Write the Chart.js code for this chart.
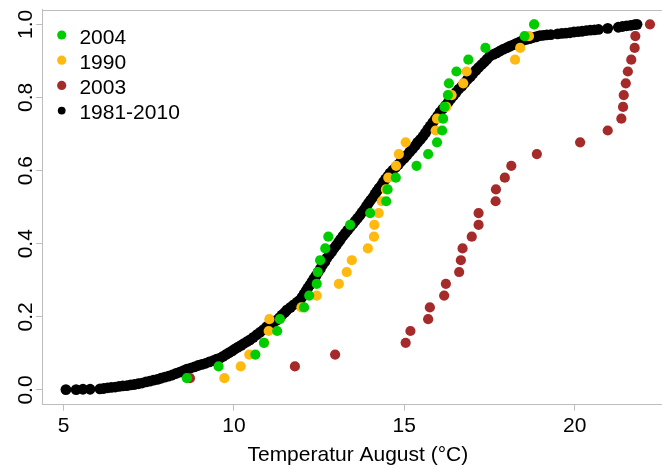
<!DOCTYPE html>
<html><head><meta charset="utf-8">
<script src="https://cdn.jsdelivr.net/npm/chart.js@4/dist/chart.umd.min.js"></script>
<style>
html,body{margin:0;padding:0;overflow:hidden;background:#fff;width:662px;height:469px;}
#wrap{position:absolute;left:0;top:0;width:680px;height:469px;}
</style></head><body>
<div id="wrap"><canvas id="c" width="680" height="469"></canvas></div>
<script>
// ---- data ----
const seriesNames = ['2004', '1990', '2003', '1981-2010'];
const seriesColors = ['#00CD00', '#FFB90F', '#A52A2A', '#000000'];
const xTicks = [5, 10, 15, 20];
const yTicks = [0, 0.2, 0.4, 0.6, 0.8, 1.0];
const yTickLabels = ['0.0', '0.2', '0.4', '0.6', '0.8', '1.0'];
const xTitle = 'Temperatur August (°C)';

// daily August temperatures (sorted) of single years
const temp2004 = [8.62, 9.55, 10.63, 10.88, 11.27, 11.35, 12.06, 12.21, 12.43, 12.46, 12.53, 12.68, 12.77, 13.41, 14.00, 14.47, 14.51, 14.75, 15.36, 15.70, 15.96, 16.11, 16.14, 16.18, 16.28, 16.31, 16.53, 16.88, 17.38, 18.53, 18.81];
const temp1990 = [9.72, 10.20, 10.45, 10.89, 11.02, 11.04, 11.98, 12.43, 13.08, 13.31, 13.46, 13.93, 14.11, 14.12, 14.25, 14.34, 14.46, 14.53, 14.76, 14.84, 15.04, 15.92, 15.96, 16.23, 16.39, 16.73, 16.83, 18.25, 18.40, 18.66, 18.81];
const temp2003 = [8.71, 11.79, 12.97, 15.04, 15.18, 15.70, 15.75, 16.17, 16.22, 16.61, 16.66, 16.71, 16.98, 17.18, 17.18, 17.68, 17.69, 17.95, 18.14, 18.89, 20.16, 20.97, 21.37, 21.42, 21.44, 21.50, 21.56, 21.66, 21.76, 21.78, 22.21];

// 1981-2010 reference distribution
const climTemp = [
5.07,5.37,5.57,5.78,
6.07,6.18,6.29,6.40,6.52,6.63,6.74,6.86,6.97,7.08,7.19,7.30,7.42,7.53,7.64,7.75,7.86,7.97,8.08,8.19,8.30,8.41,8.52,8.62,
8.73,8.84,8.95,9.06,9.17,9.28,9.39,9.49,9.59,
9.68,9.77,9.86,9.95,10.03,
10.12,10.21,10.29,10.38,10.47,
10.57,10.67,10.77,
10.87,10.96,11.06,
11.16,11.26,
11.34,11.41,11.49,11.56,
11.66,11.75,11.85,11.94,
12.00,12.06,12.12,12.17,12.23,
12.29,12.35,12.41,12.47,
12.54,12.60,12.67,12.73,
12.80,12.87,12.93,13.00,13.07,13.13,13.20,
13.27,13.34,13.41,13.49,13.56,13.63,13.70,
13.76,13.83,13.89,13.95,14.01,14.08,14.14,14.20,
14.26,14.33,14.39,14.45,14.52,14.58,
14.66,14.75,14.83,14.91,15.00,15.08,
15.16,15.24,15.32,15.39,15.47,15.55,
15.62,15.69,15.76,15.84,15.91,15.98,16.05,
16.13,16.21,16.29,16.36,16.44,16.52,
16.60,16.69,16.77,16.85,16.94,17.02,
17.10,17.18,17.27,17.35,17.43,17.51,
17.61,17.71,17.81,17.91,18.01,
18.10,18.20,18.29,18.39,18.48,
18.58,18.68,18.78,18.88,18.98,
19.08,19.18,19.30,19.50,19.62,19.74,19.86,19.98,20.10,20.22,20.34,20.46,20.58,20.70,20.97,21.28,21.40,21.52,21.64,21.76,21.83];
const climProb = [
0.001,0.001,0.002,0.002,
0.003,0.004,0.006,0.007,0.008,0.010,0.011,0.012,0.014,0.015,0.017,0.019,0.022,0.024,0.027,0.029,0.032,0.035,0.038,0.041,0.045,0.049,0.053,0.057,
0.060,0.063,0.067,0.070,0.073,0.077,0.080,0.084,0.087,
0.092,0.097,0.102,0.107,0.112,
0.117,0.122,0.127,0.132,0.137,
0.144,0.151,0.158,
0.165,0.173,0.180,
0.185,0.191,
0.198,0.205,0.212,0.219,
0.226,0.233,0.240,0.246,
0.254,0.263,0.271,0.279,0.287,
0.296,0.305,0.313,0.322,
0.332,0.342,0.351,0.361,
0.370,0.378,0.387,0.395,0.404,0.412,0.421,
0.429,0.437,0.445,0.454,0.462,0.470,0.478,
0.486,0.494,0.503,0.511,0.519,0.527,0.536,0.544,
0.552,0.560,0.569,0.577,0.585,0.593,
0.601,0.609,0.617,0.626,0.634,0.642,
0.651,0.659,0.668,0.677,0.685,0.694,
0.703,0.713,0.722,0.732,0.741,0.750,0.760,
0.769,0.778,0.787,0.796,0.805,0.814,
0.823,0.831,0.840,0.849,0.857,0.866,
0.874,0.882,0.890,0.897,0.905,0.913,
0.918,0.922,0.927,0.932,0.936,
0.940,0.944,0.948,0.952,0.956,
0.959,0.961,0.964,0.966,0.969,
0.970,0.971,0.972,0.974,0.975,0.976,0.977,0.979,0.980,0.981,0.983,0.984,0.985,0.986,0.989,0.992,0.994,0.996,0.997,0.999,1.000];

// ---- build ----
const FONT = "'Liberation Sans', Arial, Helvetica, sans-serif";
const FS = 21;
const AXIS = '#bdbdbd';

function ecdf(arr) {
  const s = arr.slice().sort((a, b) => a - b);
  return s.map((v, i) => ({x: v, y: (i + 1) / s.length}));
}
const climPts = [];
for (let i = 0; i < Math.min(climTemp.length, climProb.length); i++) climPts.push({x: climTemp[i], y: climProb[i]});

const datasets = [
  {label: seriesNames[0], data: ecdf(temp2004), backgroundColor: seriesColors[0], pointRadius: 5.1},
  {label: seriesNames[1], data: ecdf(temp1990), backgroundColor: seriesColors[1], pointRadius: 5.1},
  {label: seriesNames[2], data: ecdf(temp2003), backgroundColor: seriesColors[2], pointRadius: 5.1},
  {label: seriesNames[3], data: climPts, backgroundColor: seriesColors[3], pointRadius: 5.4}
].map(d => Object.assign(d, {borderWidth: 0, pointHoverRadius: d.pointRadius, pointHitRadius: 0}));

const decor = {
  id: 'decor',
  afterDraw(chart) {
    const {ctx, chartArea: a, scales} = chart;
    ctx.save();
    ctx.strokeStyle = AXIS; ctx.lineWidth = 1;
    ctx.beginPath();
    ctx.moveTo(a.left, Math.round(a.top) + 0.5); ctx.lineTo(a.right, Math.round(a.top) + 0.5);
    ctx.stroke();
    ctx.fillStyle = '#000';
    ctx.font = FS + 'px ' + FONT;
    yTicks.forEach((v, i) => {
      const py = scales.y.getPixelForValue(v);
      ctx.save();
      ctx.translate(32, py);
      ctx.rotate(-Math.PI / 2);
      ctx.textAlign = 'center'; ctx.textBaseline = 'alphabetic';
      ctx.fillText(yTickLabels[i], 0, 0);
      ctx.restore();
    });
    // legend
    const rows = [43.5, 68.7, 93.9, 119.1];
    const rad = [4.6, 4.6, 4.6, 3.9];
    seriesNames.forEach((n, i) => {
      ctx.fillStyle = seriesColors[i];
      ctx.beginPath(); ctx.arc(61.7, rows[i] - 8.5, rad[i], 0, Math.PI * 2); ctx.fill();
      ctx.fillStyle = '#000';
      ctx.textAlign = 'left'; ctx.textBaseline = 'alphabetic';
      ctx.fillText(n, 79.4, rows[i]);
    });
    ctx.restore();
  }
};

new Chart(document.getElementById('c'), {
  type: 'scatter',
  data: {datasets},
  options: {
    responsive: false, devicePixelRatio: 1, animation: false, events: [],
    layout: {padding: {top: 9.7, right: 6.5, left: 0, bottom: 0}},
    plugins: {legend: {display: false}, tooltip: {enabled: false}},
    scales: {
      x: {
        type: 'linear', min: 4.374, max: 22.90,
        afterBuildTicks: s => { s.ticks = xTicks.map(v => ({value: v})); },
        afterFit: s => { s.height = 64.4; },
        grid: {drawOnChartArea: false, drawTicks: true, tickLength: 6, color: AXIS, lineWidth: 1},
        border: {display: true, color: AXIS, width: 1},
        ticks: {color: '#000', font: {family: FONT, size: FS}, padding: 3, maxRotation: 0, minRotation: 0, autoSkip: false, callback: v => String(v)},
        title: {display: true, text: xTitle, color: '#000', font: {family: FONT, size: FS, lineHeight: 1.2}, padding: {top: 0, bottom: 1}}
      },
      y: {
        type: 'linear', min: -0.04, max: 1.04,
        afterBuildTicks: s => { s.ticks = yTicks.map(v => ({value: v})); },
        afterFit: s => { s.width = 42.2; },
        grid: {drawOnChartArea: false, drawTicks: true, tickLength: 6, color: AXIS, lineWidth: 1},
        border: {display: true, color: AXIS, width: 1},
        ticks: {display: false}
      }
    }
  },
  plugins: [decor]
});
</script>
</body></html>
